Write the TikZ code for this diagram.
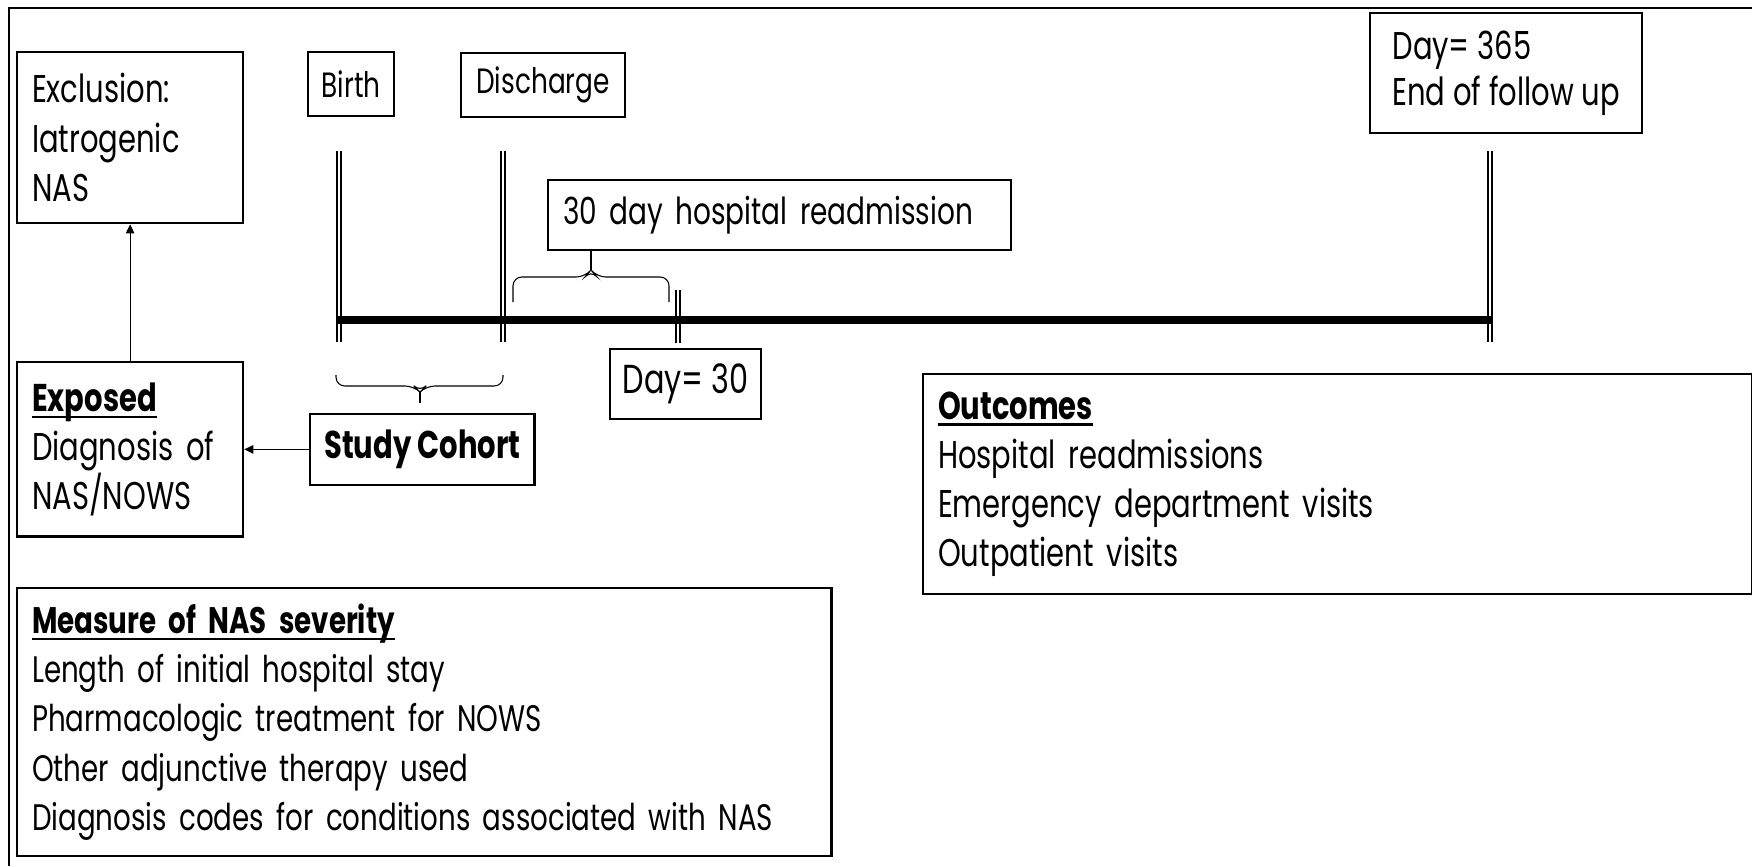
\documentclass[tikz,border=0pt]{standalone}
\usepackage{fontspec}
\setmainfont[FakeStretch=0.75]{Poppins}
\usetikzlibrary{positioning,arrows.meta}
\newsavebox{\headbox}
\newcommand{\uhead}[1]{\sbox{\headbox}{\textbf{#1}}\rlap{\rule[-.17em]{\wd\headbox}{.6pt}}\usebox{\headbox}}

\begin{document}
\begin{tikzpicture}[x=0.01cm,y=-0.01cm]
	\tikzstyle{infobox} = [draw, line width=.6pt, anchor=north west, align=left, inner xsep=.15cm, inner ysep=0pt]
	\tikzstyle{tagbox} = [draw, line width=.6pt, anchor=north west, inner sep=0pt]
	\tikzstyle{tick} = [double, line width=.45pt, double distance=.7pt]
	\tikzstyle{curly} = [line width=.3pt, rounded corners=2.5pt]
	\tikzstyle{body} = [font=\fontsize{11}{14}\selectfont]
	\useasboundingbox (0,0) rectangle (1752,866);
	\draw[line width=.7pt] (1752,8) -- (9,8) -- (9,866);
	
	\node[infobox, body, text width=1.96cm, minimum height=1.71cm](excl) at (16,51){Exclusion:\\Iatrogenic\\NAS};
	\node[infobox, body, text width=1.96cm, minimum height=1.74cm, below=1.37cm of excl](exposed){\uhead{Exposed}\\Diagnosis of\\NAS/NOWS};
	\node[tagbox, font=\fontsize{11}{14}\selectfont\bfseries, minimum width=2.24cm, minimum height=.71cm, right=.65cm of exposed](cohort){Study Cohort};
	\node[infobox, font=\fontsize{10.5}{14}\selectfont, text width=7.84cm, minimum height=2.68cm](severity) at (16,587){\uhead{Measure of NAS severity}\\Length of initial hospital stay\\Pharmacologic treatment for NOWS\\Other adjunctive therapy used\\Diagnosis codes for conditions associated with NAS};
	\draw[-{Triangle[length=2.6pt,width=2.4pt]}, line width=.35pt](exposed) -- (excl);
	\draw[-{Triangle[length=2.6pt,width=2.4pt]}, line width=.35pt](cohort) -- (exposed);
	
	\node[tagbox, font=\fontsize{10}{12}\selectfont, minimum width=.86cm, minimum height=.64cm](birth) at (307,51){Birth};
	\node[tagbox, font=\fontsize{10}{12}\selectfont, minimum width=1.64cm, minimum height=.64cm](discharge) at (460,52){Discharge};
	\node[infobox, font=\fontsize{10.6}{14}\selectfont, text width=4.33cm, minimum height=.7cm](readm) at (547,179){30 day hospital readmission};
	\node[tagbox, font=\fontsize{11.5}{14}\selectfont, minimum width=1.51cm, minimum height=.7cm](day30) at (609,348){Day= 30};
	\node[infobox, font=\fontsize{11}{13}\selectfont, minimum width=2.72cm, minimum height=1.2cm](day365) at (1369,12){Day= 365\\End of follow up};
	\node[infobox, body, text width=7.98cm, minimum height=2.2cm](outcomes) at (922,373){\uhead{Outcomes}\\Hospital readmissions\\Emergency department visits\\Outpatient visits};
	
	\draw[tick] (339,151) -- (339,342);
	\draw[tick] (503,151) -- (503,342);
	\draw[tick] (678,290) -- (678,343);
	\draw[tick] (1490,151) -- (1490,342);
	\draw[line width=2pt] (337,320) -- (1492,320);
	
	\draw[curly] (513,302) |- (585,277) -- (591,270) -- (597,277) -| (669,302);
	\draw[curly] (591,270) -- (591,249);
	\draw[curly] (336,375) |- (414,386) -- (420,392) -- (426,386) -| (503,375);
	\draw[curly] (420,392) -- (420,403);
\end{tikzpicture}
\end{document}
